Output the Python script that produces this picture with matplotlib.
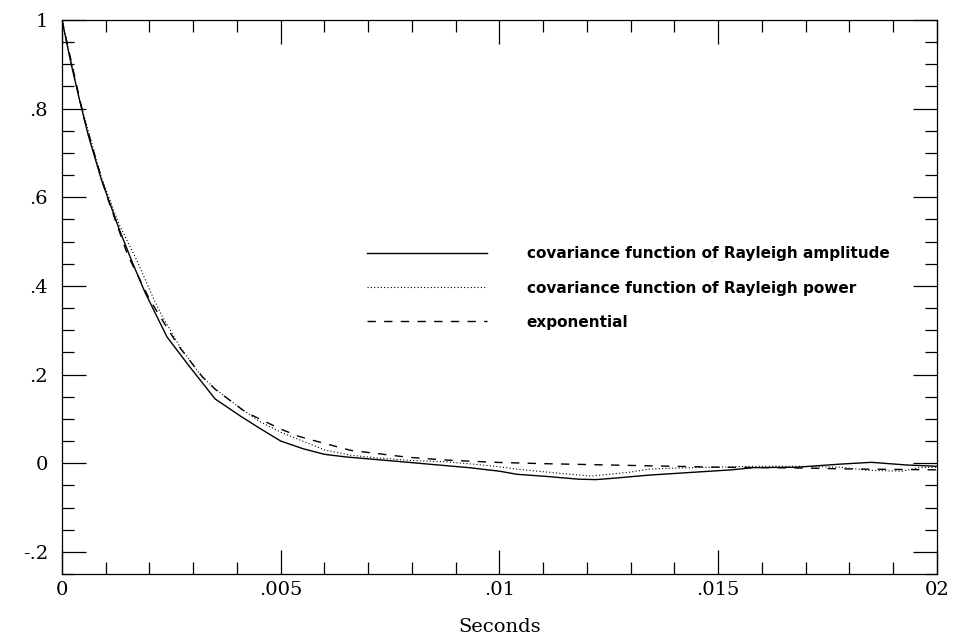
import matplotlib
matplotlib.use("Agg")
import matplotlib.pyplot as plt
from matplotlib.ticker import MultipleLocator

# covariance function of Rayleigh amplitude (solid)
t_amp = [0.0, 0.0002, 0.0004, 0.0006, 0.0009, 0.0013, 0.0016, 0.0019, 0.0024,
         0.0029, 0.0035, 0.0041, 0.0045, 0.0050, 0.0055, 0.0060, 0.0065, 0.0071,
         0.0078, 0.0086, 0.0093, 0.0100, 0.0104, 0.0111, 0.0118, 0.0122, 0.0126,
         0.0134, 0.0145, 0.0153, 0.0158, 0.0168, 0.0178, 0.0185, 0.0193, 0.0200]
amp = [1.0, 0.905, 0.82, 0.74, 0.64, 0.53, 0.455, 0.385, 0.285,
       0.22, 0.145, 0.105, 0.08, 0.05, 0.033, 0.02, 0.014, 0.009,
       0.003, -0.004, -0.010, -0.018, -0.025, -0.030, -0.036, -0.037, -0.034,
       -0.027, -0.020, -0.015, -0.010, -0.009, -0.002, 0.002, -0.004, -0.007]

# covariance function of Rayleigh power (dotted)
t_pow = [0.0, 0.0004, 0.0009, 0.0013, 0.0017, 0.0021, 0.0023, 0.0027, 0.0032,
         0.0035, 0.0040, 0.0045, 0.0050, 0.0055, 0.0060, 0.0066, 0.0072, 0.0080,
         0.0088, 0.0095, 0.0100, 0.0104, 0.0113, 0.0121, 0.0130, 0.0134, 0.0140,
         0.0149, 0.0158, 0.0168, 0.0178, 0.0184, 0.0192, 0.0196, 0.0200]
pow_ = [1.0, 0.82, 0.645, 0.54, 0.46, 0.37, 0.33, 0.262, 0.195,
        0.168, 0.13, 0.095, 0.07, 0.05, 0.03, 0.018, 0.012, 0.006,
        0.003, -0.003, -0.008, -0.0135, -0.022, -0.029, -0.020, -0.0135, -0.011,
        -0.009, -0.007, -0.007, -0.009, -0.016, -0.018, -0.010, -0.009]

# exponential (dashed)
t_exp = [0.0, 0.0005, 0.0010, 0.0015, 0.0020, 0.0025, 0.0027, 0.0032, 0.0035,
         0.0042, 0.0050, 0.0054, 0.0058, 0.0066, 0.0079, 0.0088, 0.0099, 0.0110,
         0.0120, 0.0130, 0.0140, 0.0150, 0.0160, 0.0170, 0.0180, 0.0190, 0.0200]
expo = [1.0, 0.78, 0.61, 0.47, 0.37, 0.29, 0.26, 0.196, 0.167,
        0.115, 0.077, 0.061, 0.05, 0.029, 0.0135, 0.007, 0.002, -0.001,
        -0.003, -0.005, -0.007, -0.009, -0.010, -0.011, -0.013, -0.014, -0.015]

xticks = [0, 0.005, 0.01, 0.015, 0.02]
xlabels = ["0", ".005", ".01", ".015", "02"]
yticks = [-0.2, 0, 0.2, 0.4, 0.6, 0.8, 1.0]
ylabels = ["-.2", "0", ".2", ".4", ".6", ".8", "1"]

fig = plt.figure(figsize=(9.61, 6.39), dpi=100)
ax = fig.add_axes([0.0645, 0.1017, 0.9105, 0.867])

ax.plot(t_amp, amp, color="black", lw=1.0,
        label="covariance function of Rayleigh amplitude")
ax.plot(t_pow, pow_, color="black", lw=0.8, linestyle=(0, (1, 2)),
        label="covariance function of Rayleigh power")
ax.plot(t_exp, expo, color="black", lw=1.0, linestyle=(0, (6, 6)),
        label="exponential")

ax.set_xlim(0, 0.02)
ax.set_ylim(-0.25, 1.0)

ax.set_xticks(xticks)
ax.set_xticklabels(xlabels)
ax.set_yticks(yticks)
ax.set_yticklabels(ylabels)
ax.xaxis.set_minor_locator(MultipleLocator(0.001))
ax.yaxis.set_minor_locator(MultipleLocator(0.05))

ax.tick_params(which="both", direction="in", top=True, right=True, width=0.9,
               colors="black")
ax.tick_params(which="major", length=17, labelsize=14)
ax.tick_params(axis="x", which="major", pad=5)
ax.tick_params(axis="y", which="major", pad=10)
ax.tick_params(which="minor", length=8.5)
for lab in ax.get_xticklabels() + ax.get_yticklabels():
    lab.set_family("DejaVu Serif")

for sp in ax.spines.values():
    sp.set_linewidth(0.9)

ax.set_xlabel("Seconds", family="DejaVu Serif", fontsize=14, labelpad=14)

leg = ax.legend(loc="upper left", bbox_to_anchor=(0.333, 0.616), frameon=False,
                handlelength=7.85, handletextpad=2.6, labelspacing=1.25,
                prop={"family": "DejaVu Sans", "size": 11, "weight": "bold"})

fig.savefig("out.png", dpi=100)
